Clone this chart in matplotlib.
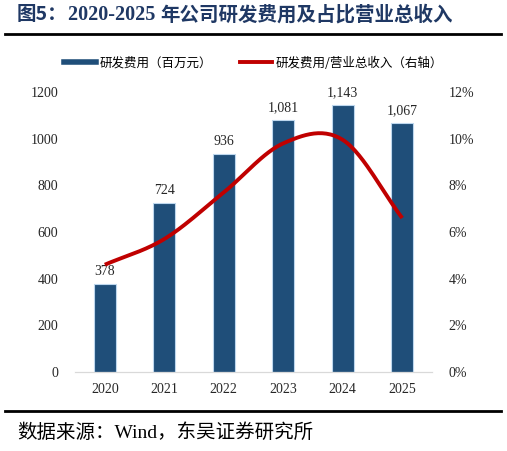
import numpy as np
import matplotlib
matplotlib.use("Agg")
import matplotlib.pyplot as plt
from matplotlib.lines import Line2D

years = ["2020", "2021", "2022", "2023", "2024", "2025"]
rd_expense = [378, 724, 936, 1081, 1143, 1067]          # 百万元
rd_ratio = [4.6, 5.7, 7.7, 9.8, 9.95, 6.6]              # %

left_ticks = [0, 200, 400, 600, 800, 1000, 1200]
right_ticks = [0, 2, 4, 6, 8, 10, 12]

SERIF = ["Liberation Serif", "Noto Sans CJK SC"]
CJK = ["Noto Sans CJK SC", "Liberation Serif"]
NAVY = "#1F3864"
BAR = "#1F4E79"
RED = "#C00000"


def smooth(xs, ys, n=30):
    # Excel-style smoothed line (Catmull-Rom through the points)
    xs = np.asarray(xs, float)
    ys = np.asarray(ys, float)
    px = np.concatenate([[2 * xs[0] - xs[1]], xs, [2 * xs[-1] - xs[-2]]])
    py = np.concatenate([[2 * ys[0] - ys[1]], ys, [2 * ys[-1] - ys[-2]]])
    out_x, out_y = [], []
    t = np.linspace(0, 1, n)
    for i in range(1, len(px) - 2):
        for p, out in ((px, out_x), (py, out_y)):
            p0, p1, p2, p3 = p[i - 1], p[i], p[i + 1], p[i + 2]
            out.extend(0.5 * ((2 * p1) + (-p0 + p2) * t
                              + (2 * p0 - 5 * p1 + 4 * p2 - p3) * t ** 2
                              + (-p0 + 3 * p1 - 3 * p2 + p3) * t ** 3))
    return out_x, out_y


fig = plt.figure(figsize=(5.07, 4.51), dpi=100)
ax = fig.add_axes([0.148, 0.175, 0.704, 0.621])
ax2 = ax.twinx()

x = np.arange(len(years))
ax.bar(x, rd_expense, width=0.37, color=BAR, edgecolor="#BDD7EE", linewidth=0.8, zorder=2)
for xi, v in zip(x, rd_expense):
    ax.text(xi, v + 25, f"{v:,}", ha="center", va="bottom", fontsize=10,
            family=SERIF, color="#262626")

sx, sy = smooth(x, rd_ratio)
ax2.plot(sx, sy, color=RED, linewidth=2.8, solid_capstyle="butt")

ax.set_xlim(-0.5, len(years) - 0.5)
ax.set_ylim(0, 1200)
ax2.set_ylim(0, 12)
ax.set_xticks(x)
ax.set_xticklabels(years, family=SERIF, fontsize=10, color="#262626")
ax.set_yticks(left_ticks)
ax.set_yticklabels([str(v) for v in left_ticks], family=SERIF, fontsize=10, color="#262626")
ax2.set_yticks(right_ticks)
ax2.set_yticklabels([f"{v}%" for v in right_ticks], family=SERIF, fontsize=10, color="#262626")

for a in (ax, ax2):
    for s in ("top", "left", "right"):
        a.spines[s].set_visible(False)
    a.spines["bottom"].set_color("#D9D9D9")
    a.tick_params(length=0)
ax.tick_params(axis="y", pad=12)
ax.tick_params(axis="x", pad=8)
ax2.tick_params(axis="y", pad=12)

handles = [Line2D([], [], color=BAR, linewidth=4),
           Line2D([], [], color=RED, linewidth=2.8)]
fig.legend(handles, ["研发费用（百万元）", "研发费用/营业总收入（右轴）"],
           loc="center", bbox_to_anchor=(0.5, 1 - 63 / 451), ncol=2, frameon=False,
           prop={"family": CJK, "size": 9}, handlelength=2.6, handletextpad=0.3,
           columnspacing=2.2)

# title pieces
t1 = fig.text(17 / 507, 1 - 15 / 451, "图5：", fontsize=14, fontweight="bold",
              color=NAVY, family=CJK, va="center", ha="left")
t2 = ax.annotate("2020-2025 ", xy=(1, 0), xycoords=t1, va="bottom", ha="left",
                 fontsize=14.5, fontweight="bold", color=NAVY, family=SERIF,
                 annotation_clip=False)
ax.annotate("年公司研发费用及占比营业总收入", xy=(1, 0), xycoords=t2, va="bottom",
            ha="left", fontsize=14, fontweight="bold", color=NAVY, family=CJK,
            annotation_clip=False)

fig.add_artist(Line2D([5 / 507, 501 / 507], [1 - 34 / 451] * 2, color="black", linewidth=2))
fig.add_artist(Line2D([5 / 507, 501 / 507], [1 - 411 / 451] * 2, color="black", linewidth=2))

fig.text(17 / 507, 1 - 433 / 451, "数据来源：Wind，东吴证券研究所", fontsize=14,
         family=SERIF, color="black", va="center", ha="left")

fig.savefig("out.png", dpi=100)
